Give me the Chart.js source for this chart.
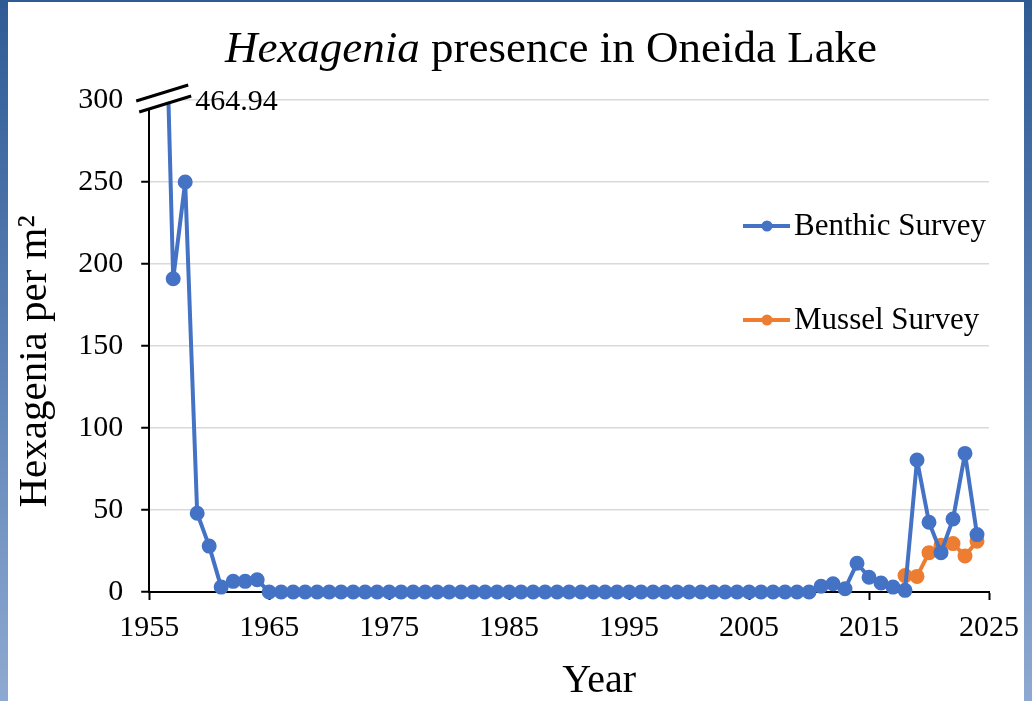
<!DOCTYPE html>
<html>
<head>
<meta charset="utf-8">
<title>Hexagenia presence in Oneida Lake</title>
<script src="https://cdn.jsdelivr.net/npm/chart.js@4.4.1/dist/chart.umd.min.js"></script>
<style>
  html, body { margin: 0; padding: 0; }
  body {
    width: 1032px; height: 701px; overflow: hidden;
    background: linear-gradient(180deg, #2f5b95 0%, #5b80b5 50%, #8ea9d1 100%);
    position: relative;
  }
  #panel {
    position: absolute; left: 8px; top: 2px; width: 1016px; height: 699px;
    background: #fff;
  }
  #chart { display: block; }
</style>
</head>
<body>
<div id="panel"><canvas id="chart" width="1016" height="699"></canvas></div>
<script>
// ── Data ─────────────────────────────────────────────────────
const benthicYears = [
  1956, 1957, 1958, 1959, 1960, 1961, 1962, 1963, 1964, 1965,
  1966, 1967, 1968, 1969, 1970, 1971, 1972, 1973, 1974, 1975,
  1976, 1977, 1978, 1979, 1980, 1981, 1982, 1983, 1984, 1985,
  1986, 1987, 1988, 1989, 1990, 1991, 1992, 1993, 1994, 1995,
  1996, 1997, 1998, 1999, 2000, 2001, 2002, 2003, 2004, 2005,
  2006, 2007, 2008, 2009, 2010, 2011, 2012, 2013, 2014, 2015,
  2016, 2017, 2018, 2019, 2020, 2021, 2022, 2023, 2024
];
const benthicValues = [
  464.94, 191, 250, 48, 28, 3, 6.5, 6.5, 7.5, 0,
  0, 0, 0, 0, 0, 0, 0, 0, 0, 0,
  0, 0, 0, 0, 0, 0, 0, 0, 0, 0,
  0, 0, 0, 0, 0, 0, 0, 0, 0, 0,
  0, 0, 0, 0, 0, 0, 0, 0, 0, 0,
  0, 0, 0, 0, 0, 3.5, 5, 2, 17.5, 9,
  5.5, 3, 1, 80.5, 42.5, 24, 44.5, 84.5, 35
];
const musselYears  = [2018, 2019, 2020, 2021, 2022, 2023, 2024];
const musselValues = [10, 9.5, 24, 28.5, 29.5, 22, 31];

const xTicks = [1955, 1965, 1975, 1985, 1995, 2005, 2015, 2025];
const yTicks = [0, 50, 100, 150, 200, 250, 300];
const brokenLabel = "464.94";

const SERIF = '"Liberation Serif", "Times New Roman", serif';
const BLUE = "#4472C4";
const ORANGE = "#ED7D31";

const toPoints = (xs, ys) => xs.map((x, i) => ({ x, y: ys[i] }));

// ── Title (mixed italic) ─────────────────────────────────────
const titlePlugin = {
  id: "mixedTitle",
  afterDraw(chart) {
    const ctx = chart.ctx;
    const parts = [
      { text: "Hexagenia", font: "italic 45px " + SERIF },
      { text: " presence in Oneida Lake", font: "45px " + SERIF }
    ];
    ctx.save();
    let total = 0;
    parts.forEach(p => { ctx.font = p.font; p.w = ctx.measureText(p.text).width; total += p.w; });
    let x = 543 - total / 2;
    ctx.fillStyle = "#000";
    ctx.textBaseline = "middle";
    ctx.textAlign = "left";
    parts.forEach(p => { ctx.font = p.font; ctx.fillText(p.text, x, 48); x += p.w; });
    ctx.restore();
  }
};

// ── Axis break marks + off-scale value ───────────────────────
const breakPlugin = {
  id: "axisBreak",
  afterDraw(chart) {
    const ctx = chart.ctx;
    const px = chart.scales.x.getPixelForValue(xTicks[0]);
    const py = chart.scales.y.getPixelForValue(yTicks[yTicks.length - 1]);
    ctx.save();
    // white gap between the two break strokes
    ctx.fillStyle = "#fff";
    ctx.beginPath();
    ctx.moveTo(px - 13, py + 1);
    ctx.lineTo(px + 39, py - 15);
    ctx.lineTo(px + 42, py - 4);
    ctx.lineTo(px - 10, py + 12);
    ctx.closePath();
    ctx.fill();
    ctx.strokeStyle = "#000";
    ctx.lineWidth = 3;
    ctx.beginPath();
    ctx.moveTo(px - 13, py + 1);  ctx.lineTo(px + 39, py - 15);
    ctx.moveTo(px - 10, py + 12); ctx.lineTo(px + 42, py - 4);
    ctx.stroke();
    ctx.fillStyle = "#000";
    ctx.font = "30px " + SERIF;
    ctx.textBaseline = "middle";
    ctx.fillText(brokenLabel, px + 46, py + 2);
    ctx.restore();
  }
};

// ── Legend drawn inside the plot ─────────────────────────────
const legendPlugin = {
  id: "innerLegend",
  afterDraw(chart) {
    const ctx = chart.ctx;
    const rows = [226, 320];
    ctx.save();
    chart.data.datasets.forEach((ds, i) => {
      const y = rows[i] - 2;
      const x0 = 735;
      ctx.strokeStyle = ds.borderColor;
      ctx.lineWidth = 4;
      ctx.beginPath();
      ctx.moveTo(x0, y); ctx.lineTo(x0 + 47, y);
      ctx.stroke();
      ctx.fillStyle = ds.borderColor;
      ctx.beginPath();
      ctx.arc(x0 + 24, y, 5.5, 0, Math.PI * 2);
      ctx.fill();
      ctx.fillStyle = "#000";
      ctx.font = "31px " + SERIF;
      ctx.textBaseline = "middle";
      ctx.fillText(ds.label, x0 + 51, y + 1);
    });
    ctx.restore();
  }
};

// ── Chart ────────────────────────────────────────────────────
const ctx = document.getElementById("chart").getContext("2d");
const lineStyle = {
  borderWidth: 4,
  pointRadius: 5.5,
  pointHoverRadius: 5.5,
  borderJoinStyle: "round",
  tension: 0,
  clip: { left: 10, right: 10, top: 0, bottom: 10 }
};
new Chart(ctx, {
  type: "line",
  data: {
    datasets: [
      Object.assign({
        label: "Benthic Survey",
        data: toPoints(benthicYears, benthicValues),
        borderColor: BLUE,
        backgroundColor: BLUE
      }, lineStyle),
      Object.assign({
        label: "Mussel Survey",
        data: toPoints(musselYears, musselValues),
        borderColor: ORANGE,
        backgroundColor: ORANGE
      }, lineStyle)
    ]
  },
  options: {
    responsive: false,
    animation: false,
    layout: { padding: { top: 98, right: 0, left: 3, bottom: 0 } },
    plugins: {
      legend: { display: false },
      title: { display: false },
      tooltip: { enabled: false }
    },
    scales: {
      x: {
        type: "linear",
        min: xTicks[0],
        max: xTicks[xTicks.length - 1],
        afterBuildTicks: axis => { axis.ticks = xTicks.map(v => ({ value: v })); },
        afterFit: axis => { axis.paddingRight = 35; },
        ticks: {
          color: "#000",
          font: { family: SERIF, size: 30 },
          padding: 10,
          maxRotation: 0,
          callback: v => String(v)
        },
        grid: { drawOnChartArea: false, tickColor: "#000", tickLength: 8, tickWidth: 2 },
        border: { color: "#000", width: 2 },
        title: {
          display: true,
          text: "      Year",
          color: "#000",
          font: { family: SERIF, size: 40, lineHeight: 1 },
          padding: { top: 5, bottom: 0 }
        }
      },
      y: {
        min: yTicks[0],
        max: yTicks[yTicks.length - 1],
        afterBuildTicks: axis => { axis.ticks = yTicks.map(v => ({ value: v })); },
        ticks: {
          color: "#000",
          font: { family: SERIF, size: 30 },
          padding: 18
        },
        grid: { color: "#d9d9d9", lineWidth: 1.5, tickColor: "#000", tickLength: 8, tickWidth: 2 },
        border: { color: "#000", width: 2 },
        title: {
          display: true,
          text: "Hexagenia per m²   ",
          color: "#000",
          font: { family: SERIF, size: 41 },
          padding: { top: 0, bottom: 0 }
        }
      }
    }
  },
  plugins: [titlePlugin, breakPlugin, legendPlugin]
});
</script>
</body>
</html>
